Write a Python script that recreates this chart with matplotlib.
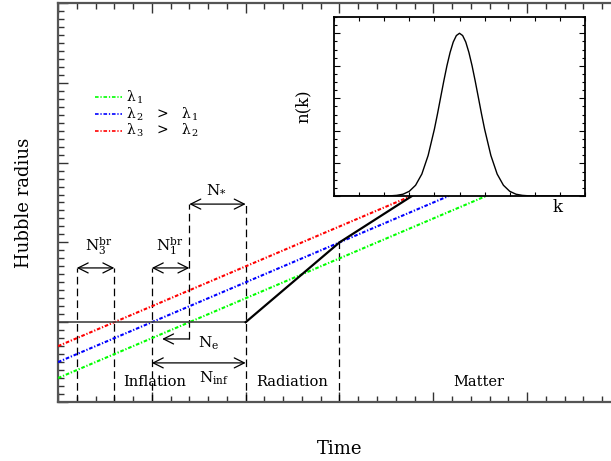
import matplotlib
matplotlib.use('Agg')
import matplotlib.pyplot as plt
from matplotlib.ticker import MultipleLocator

plt.rcParams['font.family'] = ['DejaVu Serif']
plt.rcParams['mathtext.fontset'] = 'dejavuserif'
plt.rcParams['lines.scale_dashes'] = False

# ---------------- data ----------------
# Hubble radius during inflation (flat) and after (radiation, then matter)
inflation_x = [0.0, 2.0]
inflation_y = [1.0, 1.0]
post_x = [2.0, 3.0, 3.77]
post_y = [1.0, 2.0, 2.58]

# wavelengths (dash-dot lines)
red_x = [0.0, 3.76]
red_y = [0.70, 2.58]
blue_x = [0.0, 4.16]
blue_y = [0.50, 2.58]
green_x = [0.0, 4.56]
green_y = [0.30, 2.58]

# epoch boundaries (e-folds marks)
n3_br = [0.2, 0.6]
n1_br = [1.0, 1.4]
n_star = [1.4, 2.0]
n_inf = [1.0, 2.0]
n_e = [1.4, 1.11]
t_eq = 3.0

# inset spectrum n(k)
k_vals = [0.0, 2.0, 2.25, 2.5, 2.75, 3.0, 3.25, 3.5, 3.75, 4.0, 4.125, 4.25, 4.375,
          4.5, 4.625, 4.75, 4.875, 5.0, 5.125, 5.25, 5.375, 5.5, 5.625, 5.75, 5.875,
          6.0, 6.25, 6.5, 6.75, 7.0, 7.25, 7.5, 7.75, 8.0, 10.0]
n_vals = [0.0, 0.0003, 0.0012, 0.004, 0.011, 0.029, 0.066, 0.135, 0.249, 0.411, 0.506,
          0.607, 0.707, 0.801, 0.882, 0.946, 0.986, 1.0, 0.986, 0.946, 0.882, 0.801,
          0.707, 0.607, 0.506, 0.411, 0.249, 0.135, 0.066, 0.029, 0.011, 0.004, 0.0012,
          0.0003, 0.0]

legend_labels = ['λ$_{\\,1}$',
                 'λ$_{\\,2}$   >   λ$_{\\,1}$',
                 'λ$_{\\,3}$   >   λ$_{\\,2}$']

# ---------------- figure ----------------
W, H = 611, 461
fig = plt.figure(figsize=(W / 100, H / 100), dpi=100)
ax = fig.add_axes([58 / W, (H - 402) / H, 563 / W, 399 / H])
ax.set_xlim(0, 6)
ax.set_ylim(0, 5)

spine_col = '#555555'
for s in ax.spines.values():
    s.set_color(spine_col)
    s.set_linewidth(1.6)
ax.xaxis.set_major_locator(MultipleLocator(1))
ax.xaxis.set_minor_locator(MultipleLocator(0.2))
ax.yaxis.set_major_locator(MultipleLocator(1))
ax.yaxis.set_minor_locator(MultipleLocator(0.1))
ax.tick_params(which='both', direction='in', top=True, right=True,
               labelbottom=False, labelleft=False, color='#333333', width=1.0)
ax.tick_params(which='major', length=7.5)
ax.tick_params(which='minor', length=4)

ax.set_xlabel('Time', fontsize=13, labelpad=27)
ax.set_ylabel('Hubble radius', fontsize=13, labelpad=18)

dd = (0, (2.6, 1.3, 0.9, 1.3))
lwc = 1.5
ax.plot(red_x, red_y, color='#ff0000', lw=lwc, ls=dd, zorder=3)
ax.plot(blue_x, blue_y, color='#0000ff', lw=lwc, ls=dd, zorder=3)
ax.plot(green_x, green_y, color='#00ff00', lw=lwc, ls=dd, zorder=3)

ax.plot(inflation_x, inflation_y, color='#444444', lw=1.2, zorder=4)
ax.plot(post_x, post_y, color='black', lw=1.6, zorder=4)

# dashed vertical markers
dash = (0, (5.5, 3))
vk = dict(color='black', lw=0.9, ls=dash, zorder=2)
ax.plot([n3_br[0]] * 2, [0, 1.68], **vk)
ax.plot([n3_br[1]] * 2, [0, 1.68], **vk)
ax.plot([n1_br[0]] * 2, [0, 1.68], **vk)
ax.plot([n1_br[1]] * 2, [0.79, 2.48], **vk)
ax.plot([n_star[1]] * 2, [0, 2.48], **vk)
ax.plot([t_eq] * 2, [0, 2.0], **vk)

ap = dict(arrowstyle='<->,head_length=0.4,head_width=0.2', lw=0.9, color='black',
          shrinkA=0, shrinkB=0, mutation_scale=18)
ax.annotate('', xy=(n3_br[1], 1.68), xytext=(n3_br[0], 1.68), arrowprops=ap)
ax.annotate('', xy=(n1_br[1], 1.68), xytext=(n1_br[0], 1.68), arrowprops=ap)
ax.annotate('', xy=(n_star[1], 2.48), xytext=(n_star[0], 2.48), arrowprops=ap)
ax.annotate('', xy=(n_inf[1], 0.49), xytext=(n_inf[0], 0.49), arrowprops=ap)
ap1 = dict(ap)
ap1['arrowstyle'] = '->,head_length=0.4,head_width=0.2'
ax.annotate('', xy=(n_e[1], 0.79), xytext=(n_e[0], 0.79), arrowprops=ap1)

tk = dict(ha='center', va='center', fontsize=11)
ax.text(0.43, 1.95, r'$\mathrm{N_3^{br}}$', **tk)
ax.text(1.19, 1.95, r'$\mathrm{N_1^{br}}$', **tk)
ax.text(1.69, 2.67, r'$\mathrm{N_{*}}$', **tk)
ax.text(1.61, 0.74, r'$\mathrm{N_e}$', **tk)
ax.text(1.66, 0.30, r'$\mathrm{N_{inf}}$', **tk)

rk = dict(ha='center', va='center', fontsize=10.5)
ax.text(1.03, 0.25, 'Inflation', **rk)
ax.text(2.50, 0.25, 'Radiation', **rk)
ax.text(4.49, 0.25, 'Matter', **rk)

# legend (manual)
leg_cols = ['#00ff00', '#0000ff', '#ff0000']
leg_y = [3.82, 3.61, 3.40]
for c, yy, lab in zip(leg_cols, leg_y, legend_labels):
    ax.plot([0.39, 0.68], [yy, yy], color=c, lw=1.2, ls=(0, (2.6, 1.3, 0.9, 1.3)))
    ax.text(0.73, yy, lab, ha='left', va='center', fontsize=10)

# inset
ins = fig.add_axes([334 / W, (H - 196) / H, 251 / W, 179 / H])
ins.plot(k_vals, n_vals, color='black', lw=1.0)
ins.set_xlim(0, 10)
ins.set_ylim(0, 1.1)
for s in ins.spines.values():
    s.set_linewidth(1.3)
ins.xaxis.set_major_locator(MultipleLocator(1))
ins.yaxis.set_major_locator(MultipleLocator(0.2))
ins.yaxis.set_minor_locator(MultipleLocator(0.05))
ins.tick_params(which='both', direction='in', top=True, right=True,
                labelbottom=False, labelleft=False, width=0.8)
ins.tick_params(axis='x', which='major', length=3)
ins.tick_params(axis='y', which='major', length=4.5)
ins.tick_params(axis='y', which='minor', length=2.2)
ins.set_ylabel('n(k)', fontsize=12, labelpad=16)
ins.text(8.9, -0.07, 'k', fontsize=12, ha='center', va='center')

fig.savefig('out.png', dpi=100)
